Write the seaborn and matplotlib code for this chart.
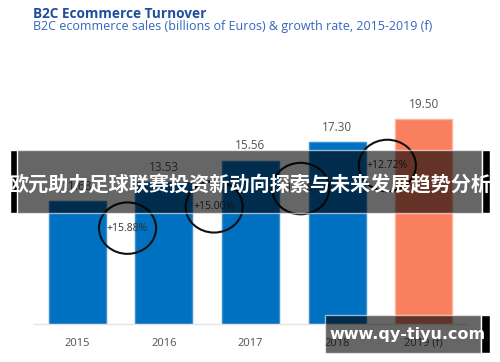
import matplotlib
matplotlib.use('Agg')
import matplotlib.pyplot as plt
import seaborn as sns
import pandas as pd
from matplotlib.patches import Ellipse, Rectangle

# data
years = ['2015', '2016', '2017', '2018', '2019 (f)']
sales = [11.68, 13.53, 15.56, 17.30, 19.50]
growth = ['+15.88%', '+15.00%', '+11.18%', '+12.72%']
bar_colors = ['#0070C0', '#0070C0', '#0070C0', '#0070C0', '#FA7F5F']
edge_colors = ['#3A8FD0', '#3A8FD0', '#3A8FD0', '#3A8FD0', '#FCB4A0']

banner_text = '欧元助力足球联赛投资新动向探索与未来发展趋势分析'
watermark = 'www.qy-tiyu.com'

df = pd.DataFrame({'year': years, 'sales': sales})

sns.set_style('white')
plt.rcParams['font.family'] = ['Open Sans', 'DejaVu Sans']

fig = plt.figure(figsize=(5.0, 3.62), dpi=100)
ax = fig.add_axes([0.068, 0.105, 0.866, 0.638])

sns.barplot(data=df, x='year', y='sales', hue='year', palette=bar_colors,
            legend=False, width=0.66, ax=ax, saturation=1)
for bar, ec in zip(ax.patches, edge_colors):
    bar.set_edgecolor(ec)
    bar.set_linewidth(1)

ax.set_xlim(-0.5, 4.5)
ax.set_ylim(0, 22)
sns.despine(ax=ax, left=True, top=True, right=True)
ax.spines['bottom'].set_color('#E3E3E3')
ax.spines['bottom'].set_linewidth(1)
ax.set_yticks([])
ax.set_xlabel('')
ax.set_ylabel('')
ax.tick_params(axis='x', length=0, pad=10, labelsize=8, labelcolor='#505050')

# value labels
for i, v in enumerate(sales):
    ax.annotate(f'{v:.2f}', (i, v), xytext=(0, 6), textcoords='offset points',
                ha='center', va='bottom', fontsize=8.5, color='#555555')

# growth labels with hand-drawn style circles
for i, g in enumerate(growth):
    x = i + 0.58
    y = sales[i + 1] - 4.4
    ax.text(x, y, g, ha='center', va='center', fontsize=7.5, color='#333333')
    ax.add_patch(Ellipse((x, y), 0.66, 4.9, fill=False, edgecolor='#111111',
                         linewidth=1.5, clip_on=False))

# titles
fig.text(0.066, 0.962, 'B2C Ecommerce Turnover', fontsize=9.8, fontweight='bold',
         color='#1F4E9C', ha='left', va='center')
fig.text(0.066, 0.928, 'B2C ecommerce sales (billions of Euros) & growth rate, 2015-2019 (f)',
         fontsize=9.0, color='#3366C0', ha='left', va='center')

# overlay banner
fig.patches.append(Rectangle((0.02, 1 - 213 / 362), 0.944, 63 / 362, transform=fig.transFigure,
                             facecolor='black', alpha=0.6, zorder=10))
fig.patches.append(Rectangle((0.02, 1 - 213 / 362), 0.014, 63 / 362, transform=fig.transFigure,
                             facecolor='black', zorder=10))
fig.patches.append(Rectangle((0.964, 1 - 213 / 362), 0.016, 63 / 362, transform=fig.transFigure,
                             facecolor='black', zorder=10))
fig.text(0.5, 1 - 185 / 362, banner_text, family=['Noto Sans CJK SC', 'DejaVu Sans'],
         fontsize=14.5, fontweight='bold', color='white', ha='center', va='center', zorder=11)

# watermark
fig.patches.append(Rectangle((0.65, 1 - 353 / 362), 0.312, 38 / 362, transform=fig.transFigure,
                             facecolor='black', alpha=0.6, zorder=10))
fig.patches.append(Rectangle((0.962, 1 - 353 / 362), 0.018, 38 / 362, transform=fig.transFigure,
                             facecolor='black', zorder=10))
fig.text(0.815, 1 - 334 / 362, watermark, family=['DejaVu Sans'], fontsize=11.5,
         fontweight='bold', color='white', ha='center', va='center', zorder=11)

fig.savefig('out.png', dpi=100)
